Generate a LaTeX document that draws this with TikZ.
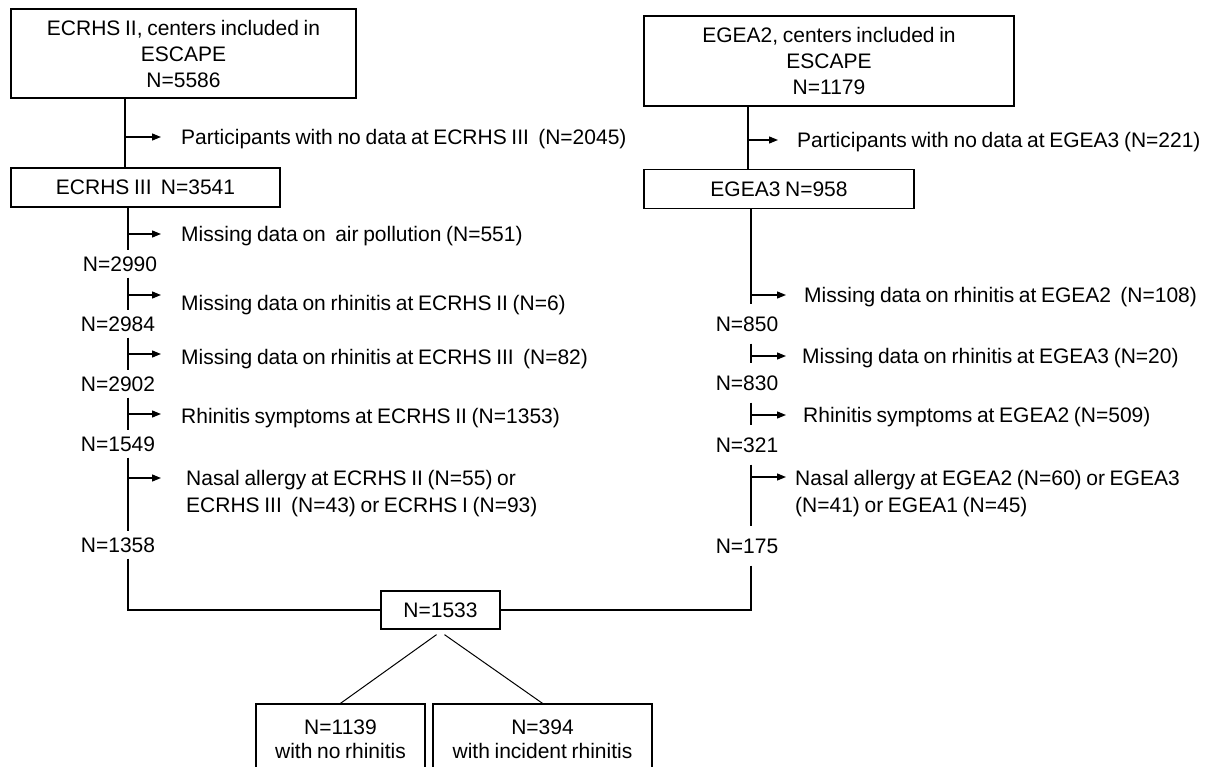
\documentclass[tikz,border=0pt]{standalone}
\usepackage{fontspec}
\setmainfont{Liberation Sans}[WordSpace=0.8]
\usetikzlibrary{arrows.meta}
\begin{document}
\begin{tikzpicture}[x=1pt,y=-1pt,
  every node/.style={font=\fontsize{21}{26}\selectfont},
  box/.style={draw,line width=1.3pt,inner sep=0pt,align=center},
  lbl/.style={inner xsep=0pt,inner ysep=0pt,text height=15pt,text depth=0pt,anchor=west},
  two/.style={inner sep=0pt,anchor=north west,align=left,font=\fontsize{21}{27.5}\selectfont},
  nl/.style={inner xsep=0pt,inner ysep=6pt,text height=15pt,text depth=0pt},
  nr/.style={nl,inner ysep=12pt},
  ln/.style={line width=1.3pt},
  arr/.style={ln,-{Triangle[length=9pt,width=7pt]}}]
\useasboundingbox (0,0) rectangle (1214,767);
\clip (0,0) rectangle (1214,767);
\fill[white] (0,0) rectangle (1214,767);

% boxes
\node[box,minimum width=345pt,minimum height=89pt] (b1) at (183.5,53.5) {ECRHS II, centers included in\\ESCAPE\\N=5586};
\node[box,minimum width=269pt,minimum height=39pt] (b2) at (145.5,187.5) {ECRHS III\ \ N=3541};
\node[box,minimum width=370pt,minimum height=90pt] (e1) at (829,61) {EGEA2, centers included in\\ESCAPE\\N=1179};
\node[box,minimum width=270pt,minimum height=39pt] (e2) at (779,189) {EGEA3 N=958};
\node[box,minimum width=119pt,minimum height=38pt] (m) at (440.5,610) {N=1533};
\node[box,minimum width=169pt,minimum height=70pt,font=\fontsize{21}{24}\selectfont] (nr) at (340.5,739) {N=1139\\with no rhinitis};
\node[box,minimum width=219pt,minimum height=70pt,font=\fontsize{21}{24}\selectfont] (ir) at (542.5,739) {N=394\\with incident rhinitis};

% trunk x positions
\coordinate (L0) at (125,0);
\coordinate (L) at (128,0);
\coordinate (R0) at (748,0);
\coordinate (R) at (751,0);

% count labels
\node[nl] (n2990) at (120,264) {N=2990};
\node[nl] (n2984) at (118,324) {N=2984};
\node[nl] (n2902) at (118,384) {N=2902};
\node[nl] (n1549) at (118,444) {N=1549};
\node[nl] (n1358) at (118,545) {N=1358};
\node[nr] (n850) at (747,324) {N=850};
\node[nr] (n830) at (747,383) {N=830};
\node[nr] (n321) at (747,445) {N=321};
\node[nr] (n175) at (747,546) {N=175};

% exclusion texts
\node[lbl] (t1) at (181,137) {Participants with no data at ECRHS III\ \ (N=2045)};
\node[lbl] (t2) at (181,234) {Missing data on\ \ air pollution (N=551)};
\node[lbl] (t3) at (181,303) {Missing data on rhinitis at ECRHS II (N=6)};
\node[lbl] (t4) at (181,357) {Missing data on rhinitis at ECRHS III\ \ (N=82)};
\node[lbl] (t5) at (181,416) {Rhinitis symptoms at ECRHS II (N=1353)};
\node[two] (t6) at (186,470) {Nasal allergy at ECRHS II (N=55) or\\ECRHS III\ \ (N=43) or ECRHS I (N=93)};

\node[lbl] (u1) at (797,140) {Participants with no data at EGEA3 (N=221)};
\node[lbl] (u2) at (804,295) {Missing data on rhinitis at EGEA2\ \ (N=108)};
\node[lbl] (u3) at (802,356) {Missing data on rhinitis at EGEA3 (N=20)};
\node[lbl] (u4) at (803,415) {Rhinitis symptoms at EGEA2 (N=509)};
\node[two] (u5) at (795,470) {Nasal allergy at EGEA2 (N=60) or EGEA3\\(N=41) or EGEA1 (N=45)};

% left trunk
\draw[ln] (b1.south -| L0) -- (b2.north -| L0);
\draw[ln] (b2.south -| L) -- (n2990.north -| L);
\draw[ln] (n2990.south -| L) -- (n2984.north -| L);
\draw[ln] (n2984.south -| L) -- (n2902.north -| L);
\draw[ln] (n2902.south -| L) -- (n1549.north -| L);
\draw[ln] (n1549.south -| L) -- (n1358.north -| L);
\draw[ln] (n1358.south -| L) |- (m.west);

% right trunk
\draw[ln] (e1.south -| R0) -- (e2.north -| R0);
\draw[ln] (e2.south -| R) -- (n850.north -| R);
\draw[ln] (n850.south -| R) -- (n830.north -| R);
\draw[ln] (n830.south -| R) -- (n321.north -| R);
\draw[ln] (n321.south -| R) -- (n175.north -| R);
\draw[ln] (n175.south -| R) |- (m.east);

% left arrows
\path (L |- t3.west) ++(0,-8) coordinate (a3);
\path (L |- t4.west) ++(0,-3) coordinate (a4);
\path (L |- t5.west) ++(0,-2) coordinate (a5);
\path (L |- t6.north west) ++(0,8) coordinate (a6);
\draw[arr] (L0 |- t1.west) -- ++(36,0);
\draw[arr] (L |- t2.west) -- ++(33,0);
\draw[arr] (a3) -- ++(33,0);
\draw[arr] (a4) -- ++(33,0);
\draw[arr] (a5) -- ++(33,0);
\draw[arr] (a6) -- ++(33,0);

% right arrows
\path (R |- u5.north west) ++(0,7) coordinate (b5);
\draw[arr] (R0 |- u1.west) -- ++(30,0);
\draw[arr] (R |- u2.west) -- ++(35,0);
\draw[arr] (R |- u3.west) -- ++(35,0);
\draw[arr] (R |- u4.west) -- ++(35,0);
\draw[arr] (b5) -- ++(35,0);

% split
\draw[line width=1pt] ([xshift=-4pt,yshift=-5pt]m.south) -- (nr.north);
\draw[line width=1pt] ([xshift=4pt,yshift=-5pt]m.south) -- (ir.north);
\end{tikzpicture}
\end{document}
